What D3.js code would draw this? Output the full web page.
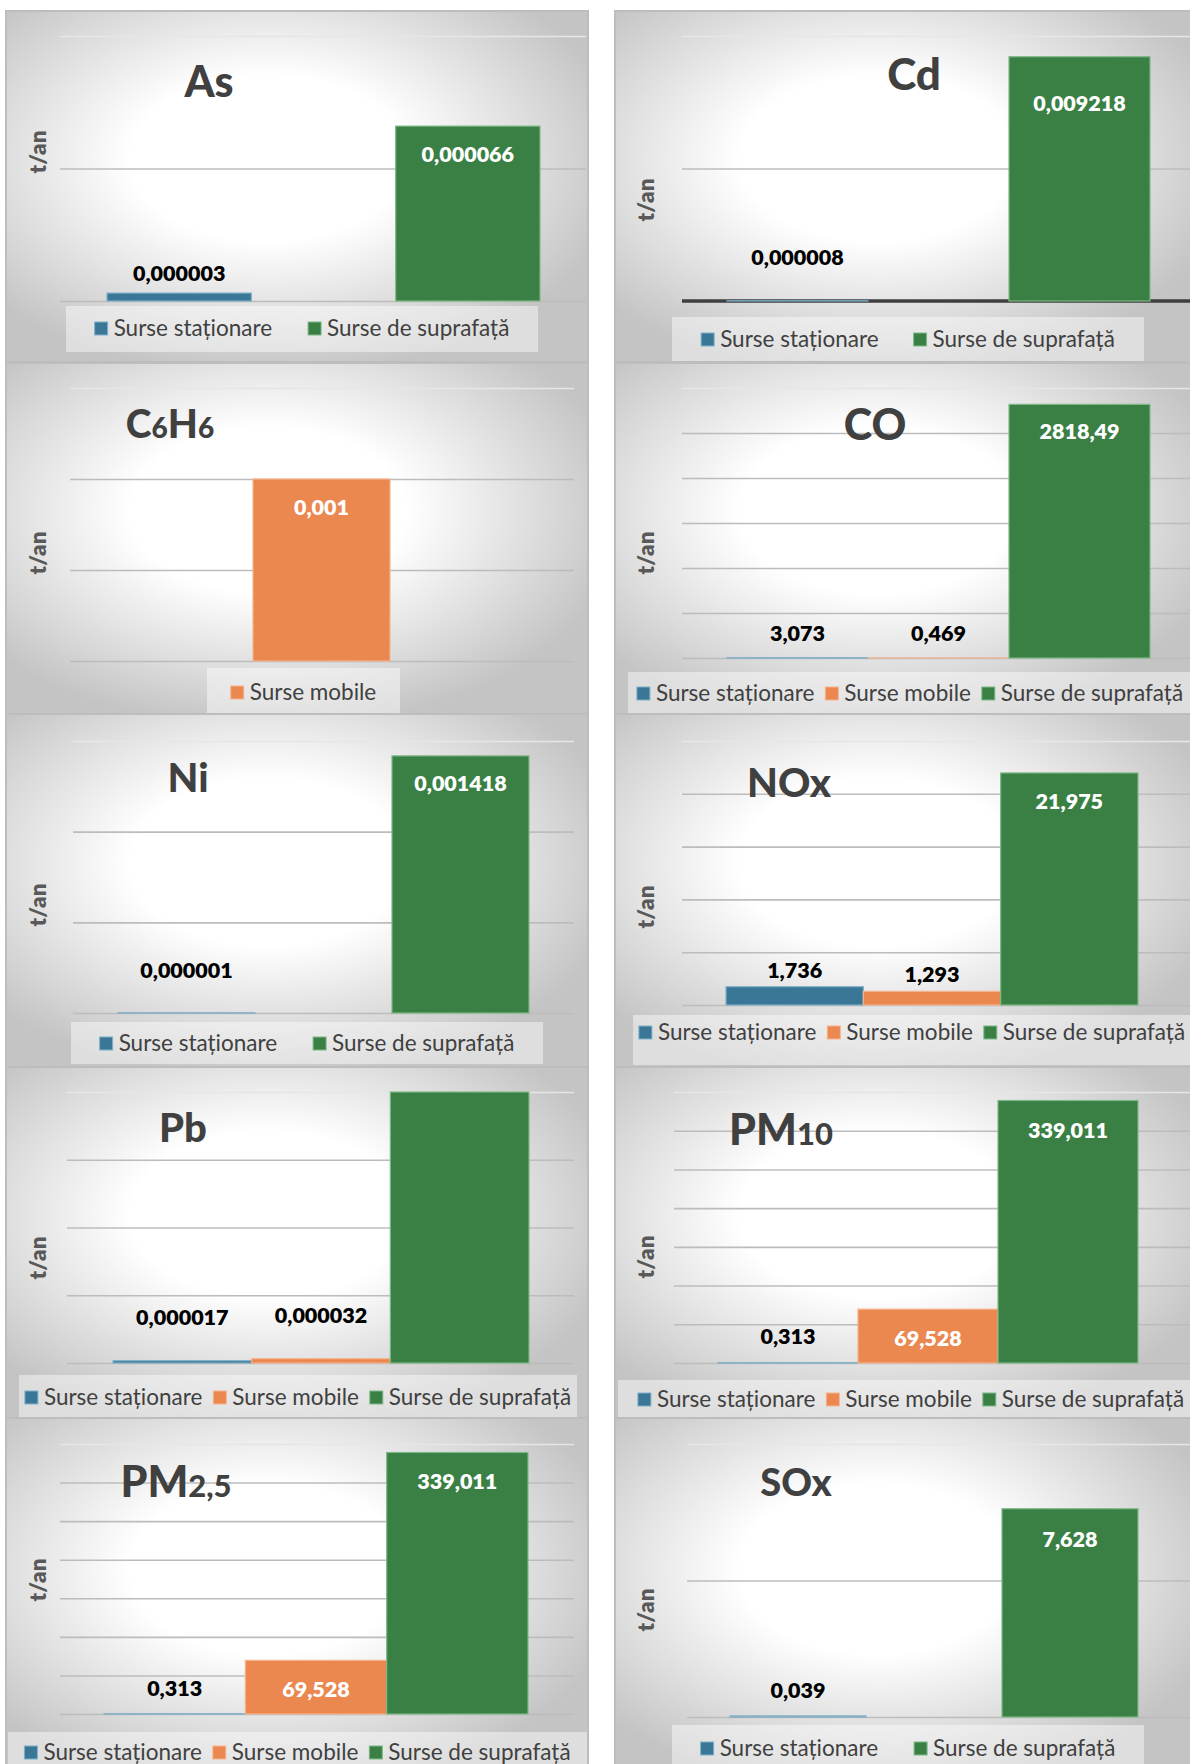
<!DOCTYPE html>
<html>
<head>
<meta charset="utf-8">
<script src="https://cdn.jsdelivr.net/npm/d3@7"></script>
<style>
  body { margin: 0; background: #fff; }
  svg { display: block; font-family: Lato, "Open Sans", sans-serif; }
</style>
</head>
<body>
<div id="chart"></div>
<script>
// emisii pe surse, t/an
var pollutants = ["As", "Cd", "C6H6", "CO", "Ni", "NOx", "Pb", "PM10", "PM2,5", "SOx"];
var sources = ["Surse staționare", "Surse mobile", "Surse de suprafață"];
var stationary = [0.000003, 0.000008, null, 3.073, 0.000001, 1.736, 0.000017, 0.313, 0.313, 0.039];
var mobile = [null, null, 0.001, 0.469, null, 1.293, 0.000032, 69.528, 69.528, null];
var surface = [0.000066, 0.009218, null, 2818.49, 0.001418, 21.975, 0.002, 339.011, 339.011, 7.628];
var axisMax = [0.0001, 0.01, 0.0015, 3000, 0.0015, 25, 0.002, 350, 350, 10];
var axisStep = [0.00005, 0.005, 0.0005, 500, 0.0005, 5, 0.0005, 50, 50, 5];
var hiddenLabels = ["Pb|Surse de suprafață"]; // label cut off in the source picture
var unit = "t/an";

var colors = ["#3a7797", "#eb8850", "#3a8044"];
var strokes = ["#7fb0c8", "#f5b48e", "#7fb888"];

// panel placement (px,py,pw,ph), grid x range, band x range, grid y range,
// title [x, baseline, size], label offsets, legend box [x, y, w, h, textY], t/an position
var layout = [
  {px: 6, py: 11, pw: 582, ph: 351, gx: [60, 586], bx: [107, 540], gy: [36, 301], title: [209, 97, 43], out: 12, inn: 36, legend: [66, 306, 472, 46, 328], gap: 36, yt: [38, 152]},
  {px: 615, py: 11, pw: 582, ph: 351, gx: [682, 1195], bx: [727, 1150], gy: [36, 301], title: [914, 90, 44], out: 36, inn: 54, legend: [672, 317, 472, 44, 339], gap: 35, yt: [646, 200], heavyBase: true},
  {px: 6, py: 363, pw: 582, ph: 351, gx: [70, 574], bx: [116, 527], gy: [388, 661], title: [170, 438, 39], out: 12, inn: 36, legend: [207, 668, 193, 45, 692], gap: 11, yt: [38, 553]},
  {px: 615, py: 363, pw: 582, ph: 351, gx: [682, 1195], bx: [727, 1150], gy: [388, 658], title: [875, 440, 43], out: 17, inn: 35, legend: [628, 672, 564, 41, 693], gap: 11, yt: [646, 553]},
  {px: 6, py: 714, pw: 582, ph: 353, gx: [73, 574], bx: [118, 529], gy: [741, 1013], title: [188, 792, 40], out: 35, inn: 35, legend: [71, 1022, 472, 42, 1043], gap: 36, yt: [38, 905]},
  {px: 615, py: 714, pw: 582, ph: 353, gx: [682, 1195], bx: [726, 1138], gy: [741, 1005], title: [789, 797, 40], out: 9, inn: 36, legend: [633, 1015, 558, 50, 1032], gap: 11, yt: [646, 907]},
  {px: 6, py: 1067, pw: 582, ph: 351, gx: [67, 574], bx: [113, 529], gy: [1092, 1363], title: [183, 1142, 40], out: 36, inn: 36, legend: [19, 1375, 558, 42, 1397], gap: 11, yt: [38, 1258]},
  {px: 615, py: 1067, pw: 582, ph: 351, gx: [674, 1195], bx: [718, 1138], gy: [1092, 1363], title: [781, 1145, 43], out: 19, inn: 37, legend: [618, 1380, 586, 40, 1399], gap: 11, yt: [646, 1257]},
  {px: 6, py: 1418, pw: 582, ph: 360, gx: [60, 574], bx: [104, 528], gy: [1444, 1714], title: [176, 1497, 43], out: 18, inn: 37, legend: [8, 1732, 579, 40, 1752], gap: 11, yt: [38, 1580]},
  {px: 615, py: 1418, pw: 582, ph: 360, gx: [687, 1195], bx: [730, 1138], gy: [1444, 1717], title: [796, 1496, 38], out: 18, inn: 38, legend: [672, 1725, 472, 45, 1748], gap: 36, yt: [646, 1610]}
];

var W = 1190, H = 1764;

var svg = d3.select("#chart")
  .append("svg")
  .attr("width", W)
  .attr("height", H);

var defs = svg.append("defs");
var grad = defs.append("radialGradient")
  .attr("id", "bg")
  .attr("cx", 0.45)
  .attr("cy", 0.42)
  .attr("r", 0.62);
grad.append("stop").attr("offset", 0).attr("stop-color", "#ffffff");
grad.append("stop").attr("offset", 0.38).attr("stop-color", "#ffffff");
grad.append("stop").attr("offset", 0.75).attr("stop-color", "#dcdcdc");
grad.append("stop").attr("offset", 1).attr("stop-color", "#c4c4c4");

var fmt = function(v) {
  return String(v).replace(".", ",");
};

pollutants.forEach(function(name, i) {
  var L = layout[i];
  var values = [stationary[i], mobile[i], surface[i]];
  var g = svg.append("g");

  g.append("rect")
    .attr("x", L.px)
    .attr("y", L.py)
    .attr("width", L.pw)
    .attr("height", L.ph)
    .attr("fill", "url(#bg)")
    .attr("stroke", "#bdbdbd")
    .attr("stroke-width", 2);

  var x = d3.scaleBand()
    .domain(sources)
    .range(L.bx)
    .padding(0);

  var y = d3.scaleLinear()
    .domain([0, axisMax[i]])
    .range([L.gy[1], L.gy[0]]);

  var n = Math.round(axisMax[i] / axisStep[i]);
  var ticks = d3.range(0, n + 1).map(function(k) {
    return k * axisStep[i];
  });

  var grid = g.append("g")
    .attr("transform", "translate(" + L.gx[0] + ",0)")
    .call(d3.axisLeft(y).tickValues(ticks).tickSize(-(L.gx[1] - L.gx[0])).tickFormat(""));
  grid.select(".domain").remove();
  grid.selectAll(".tick line")
    .attr("stroke", function(d, k) {
      return k === n ? "#e6e6e6" : "#bcbcbc";
    })
    .attr("stroke-width", 1.6);

  if (L.heavyBase) {
    g.append("line")
      .attr("x1", L.gx[0])
      .attr("x2", L.gx[1])
      .attr("y1", y(0))
      .attr("y2", y(0))
      .attr("stroke", "#3f3f3f")
      .attr("stroke-width", 3.5);
  }

  var bars = sources
    .map(function(s, k) {
      return {source: s, k: k, value: values[k]};
    })
    .filter(function(d) {
      return d.value != null;
    });

  g.selectAll("rect.bar")
    .data(bars)
    .enter()
    .append("rect")
    .attr("class", "bar")
    .attr("x", function(d) { return x(d.source); })
    .attr("width", x.bandwidth())
    .attr("y", function(d) { return y(d.value); })
    .attr("height", function(d) { return y(0) - y(d.value); })
    .attr("fill", function(d) { return colors[d.k]; })
    .attr("stroke", function(d) { return strokes[d.k]; })
    .attr("stroke-width", 1.2);

  // legend
  var lg = L.legend;
  g.append("rect")
    .attr("x", lg[0])
    .attr("y", lg[1])
    .attr("width", lg[2])
    .attr("height", lg[3])
    .attr("fill", "#ffffff")
    .attr("fill-opacity", 0.45);

  var items = g.append("g");
  var offsets = [];
  var cursor = 0;
  bars.forEach(function(d) {
    var it = items.append("g");
    it.append("rect")
      .attr("x", 0)
      .attr("y", lg[4] - 6)
      .attr("width", 13)
      .attr("height", 13)
      .attr("fill", colors[d.k])
      .attr("stroke", strokes[d.k])
      .attr("stroke-width", 1);
    var t = it.append("text")
      .attr("x", 19)
      .attr("y", lg[4])
      .attr("dy", "0.36em")
      .attr("font-size", 22.5)
      .attr("fill", "#404040")
      .text(d.source);
    var w = 19 + t.node().getComputedTextLength();
    offsets.push([it, cursor]);
    cursor += w + L.gap;
  });
  var total = cursor - L.gap;
  var start = lg[0] + lg[2] / 2 - total / 2;
  offsets.forEach(function(o) {
    o[0].attr("transform", "translate(" + (start + o[1]) + ",0)");
  });

  // title with small digits
  var title = g.append("text")
    .attr("x", L.title[0])
    .attr("y", L.title[1])
    .attr("text-anchor", "middle")
    .attr("font-weight", 900)
    .attr("fill", "#404040");
  name.split(/(\d[\d,]*)/).forEach(function(part) {
    if (!part) return;
    var small = /^\d/.test(part);
    title.append("tspan")
      .attr("font-size", small ? L.title[2] * 0.72 : L.title[2])
      .text(part);
  });

  // value labels
  g.selectAll("text.val")
    .data(bars.filter(function(d) {
      return hiddenLabels.indexOf(name + "|" + d.source) < 0;
    }))
    .enter()
    .append("text")
    .attr("class", "val")
    .attr("x", function(d) { return x(d.source) + x.bandwidth() / 2; })
    .attr("y", function(d) {
      var inside = y(0) - y(d.value) > 40;
      return inside ? y(d.value) + L.inn : y(d.value) - L.out;
    })
    .attr("text-anchor", "middle")
    .attr("font-weight", 800)
    .attr("font-size", 21.5)
    .attr("fill", function(d) {
      return y(0) - y(d.value) > 40 ? "#ffffff" : "#000000";
    })
    .text(function(d) { return fmt(d.value); });

  g.append("text")
    .attr("transform", "translate(" + L.yt[0] + "," + L.yt[1] + ") rotate(-90)")
    .attr("text-anchor", "middle")
    .attr("dy", "0.35em")
    .attr("font-weight", 800)
    .attr("font-size", 22.5)
    .attr("fill", "#595959")
    .text(unit);
});
</script>
</body>
</html>
